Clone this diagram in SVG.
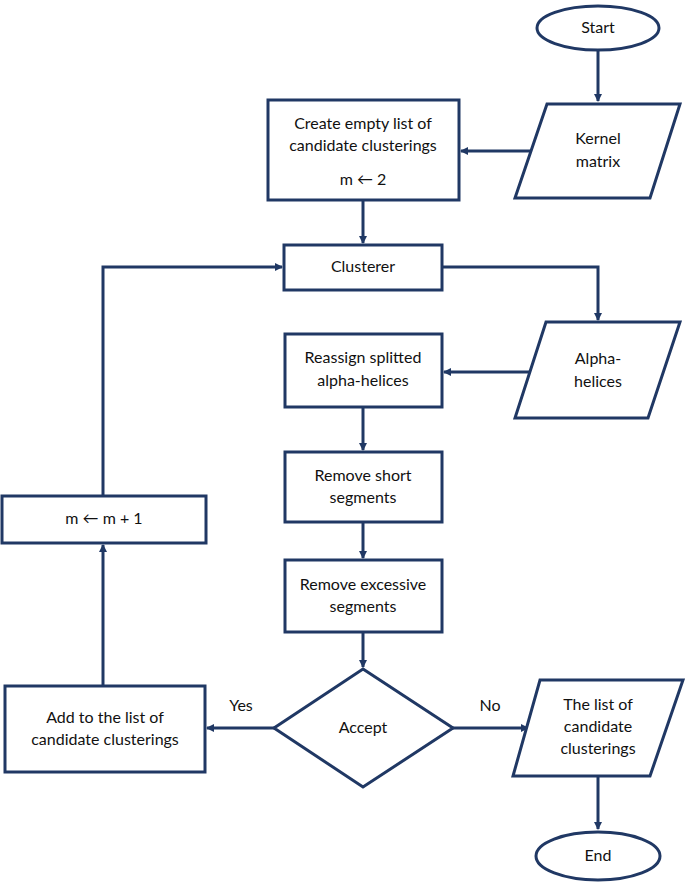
<svg xmlns="http://www.w3.org/2000/svg" width="685" height="885" viewBox="0 0 685 885">
<defs>
<marker id="ah" markerWidth="10" markerHeight="10" refX="7" refY="4" orient="auto" markerUnits="userSpaceOnUse">
<path d="M0,0 L8,4 L0,8 Z" fill="#203864"/>
</marker>
<style>
.s{fill:#fff;stroke:#203864;stroke-width:3}
.c{fill:none;stroke:#203864;stroke-width:3;marker-end:url(#ah)}
text{font-family:Lato,"Open Sans","DejaVu Sans",sans-serif;font-size:16px;fill:#111;text-anchor:middle;dominant-baseline:middle}
</style>
</defs>
<rect width="685" height="885" fill="#fff"/>
<g id="connectors">
<path class="c" d="M598,50 V101"/>
<path class="c" d="M531,151 H461"/>
<path class="c" d="M363,200 V243"/>
<path class="c" d="M442,267 H598 V320"/>
<path class="c" d="M530,372 H444"/>
<path class="c" d="M363,407 V450"/>
<path class="c" d="M363,522 V558"/>
<path class="c" d="M363,632 V667"/>
<path class="c" d="M274,728 H207"/>
<path class="c" d="M453,728 H528"/>
<path class="c" d="M598,776 V829"/>
<path class="c" d="M103,686 V545"/>
<path class="c" d="M103,496 V267 H282"/>
</g>
<g id="start"><ellipse class="s" cx="598" cy="28" rx="61" ry="22"/><text x="598" y="29">Start</text></g>
<g id="kernel"><polygon class="s" points="547,104 680,104 650,198 515,198"/><text x="598" y="140">Kernel</text><text x="598" y="163">matrix</text></g>
<g id="create"><rect class="s" x="268" y="100" width="191" height="100"/><text x="363" y="125">Create empty list of</text><text x="363" y="147">candidate clusterings</text><text x="363" y="181">m ← 2</text></g>
<g id="clusterer"><rect class="s" x="284" y="245" width="158" height="45"/><text x="363" y="268">Clusterer</text></g>
<g id="alpha"><polygon class="s" points="546,322 680,322 648,418 515,418"/><text x="598" y="360">Alpha-</text><text x="598" y="383">helices</text></g>
<g id="reassign"><rect class="s" x="285" y="334" width="157" height="73"/><text x="363" y="359">Reassign splitted</text><text x="363" y="382">alpha-helices</text></g>
<g id="short"><rect class="s" x="285" y="452" width="157" height="70"/><text x="363" y="477">Remove short</text><text x="363" y="499">segments</text></g>
<g id="excessive"><rect class="s" x="285" y="560" width="157" height="72"/><text x="363" y="586">Remove excessive</text><text x="363" y="608">segments</text></g>
<g id="accept"><polygon class="s" points="363,669 453,728 363,787 274,728"/><text x="363" y="729">Accept</text></g>
<g id="labels"><text x="241" y="707">Yes</text><text x="490" y="707">No</text></g>
<g id="list"><polygon class="s" points="540,680 683,680 650,776 513,776"/><text x="598" y="706">The list of</text><text x="598" y="728">candidate</text><text x="598" y="750">clusterings</text></g>
<g id="end"><ellipse class="s" cx="598" cy="856" rx="62" ry="24"/><text x="598" y="857">End</text></g>
<g id="add"><rect class="s" x="5" y="686" width="200" height="86"/><text x="105" y="719">Add to the list of</text><text x="105" y="741">candidate clusterings</text></g>
<g id="mplus"><rect class="s" x="2" y="496" width="204" height="47"/><text x="104" y="520">m ← m + 1</text></g>
</svg>
